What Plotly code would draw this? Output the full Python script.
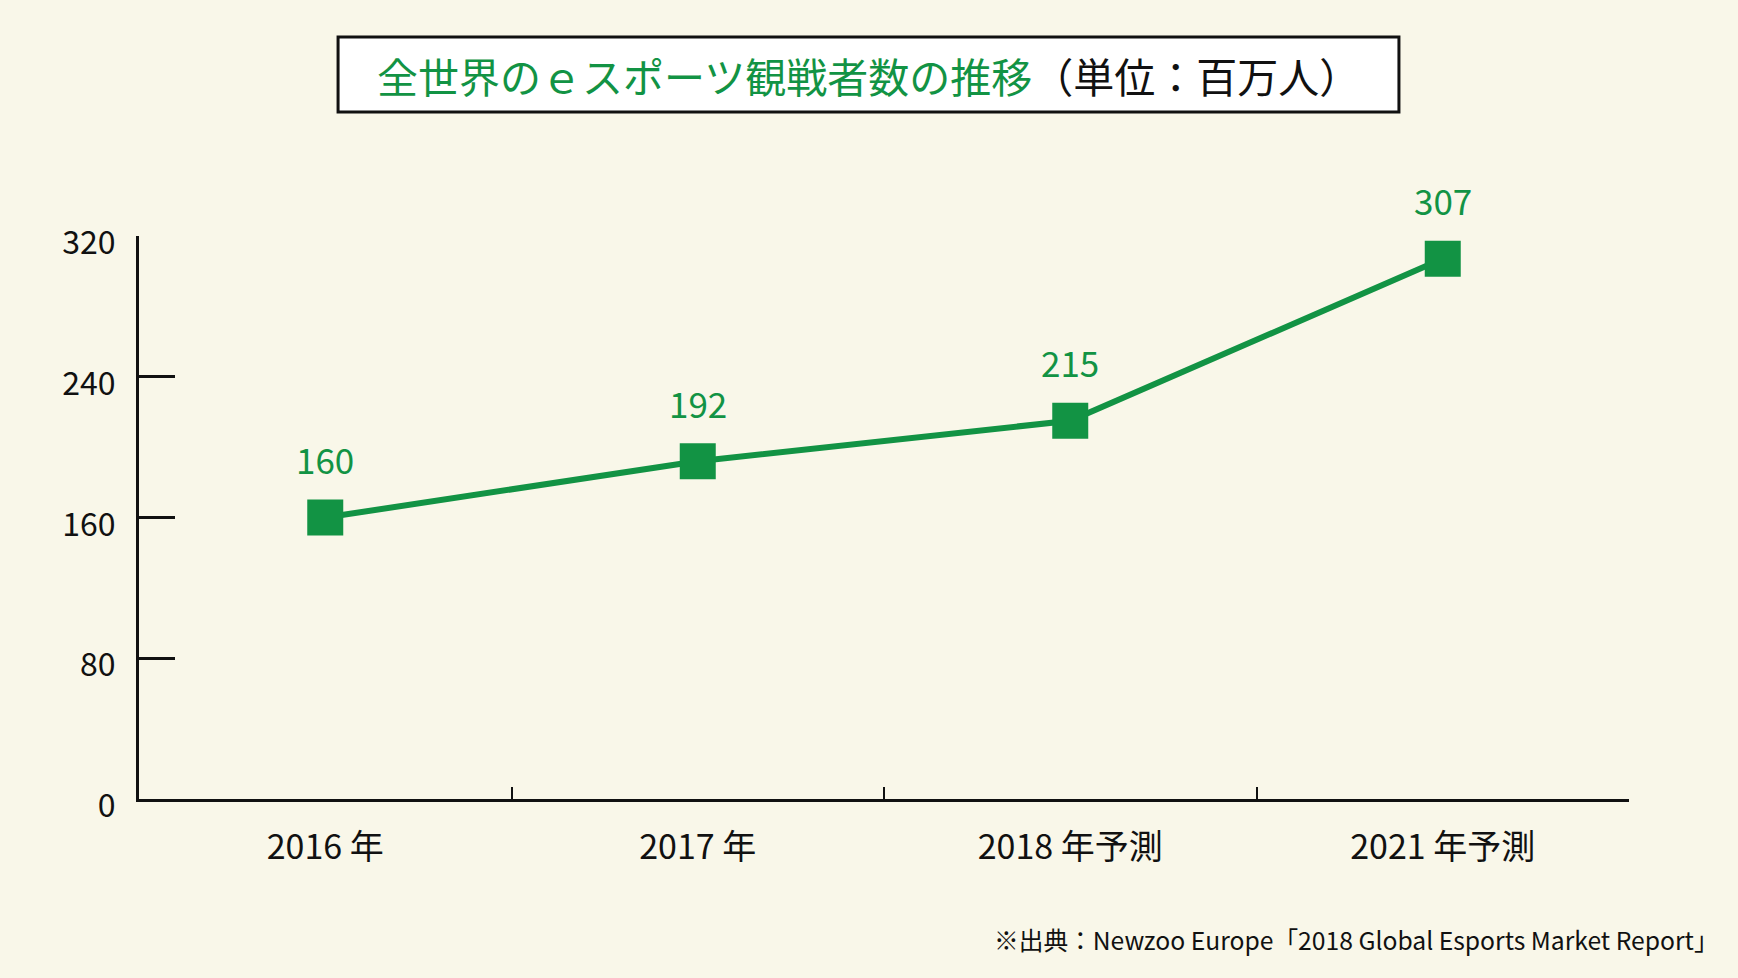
import plotly.graph_objects as go

categories = ["2016 年", "2017 年", "2018 年予測", "2021 年予測"]
viewers = [160, 192, 215, 307]
y_ticks = [0, 80, 160, 240, 320]

GREEN = "#129344"
BG = "#F9F7E9"
FONT = "Noto Sans CJK JP"

fig = go.Figure()
fig.add_trace(go.Scatter(
    x=categories, y=viewers, mode="lines+markers",
    line=dict(color=GREEN, width=6),
    marker=dict(symbol="square", size=36, color=GREEN),
    hoverinfo="skip", showlegend=False, cliponaxis=False,
))

for c, v in zip(categories, viewers):
    fig.add_annotation(x=c, y=v, text=str(v), showarrow=False, yshift=59,
                       font=dict(family=FONT, size=35, color=GREEN))

fig.update_layout(
    width=1738, height=978,
    margin=dict(l=139, r=109, t=236, b=179),
    paper_bgcolor=BG, plot_bgcolor=BG,
    font=dict(family=FONT, color="#111111"),
)
fig.update_xaxes(
    type="category", range=[-0.5, 3.5], showgrid=False, zeroline=False,
    showline=True, linecolor="#111111", linewidth=3,
    ticks="inside", tickson="boundaries", ticklen=12, tickwidth=2, tickcolor="#111111",
    tickfont=dict(family=FONT, size=34, color="#111111"),
    ticklabelstandoff=16,
)
fig.update_yaxes(
    range=[0, 320], tickvals=y_ticks, showgrid=False, zeroline=False,
    showline=True, linecolor="#111111", linewidth=3,
    ticks="inside", ticklen=36, tickwidth=3, tickcolor="#111111",
    tickfont=dict(family=FONT, size=32, color="#111111"),
    ticklabelstandoff=14, ticklabelshift=7,
)

# title box
fig.add_shape(type="rect", xref="paper", yref="paper",
              x0=0.1336, x1=0.8456, y0=1.2202, y1=1.3535,
              line=dict(color="#111111", width=3), fillcolor="white")
fig.add_annotation(
    xref="paper", yref="paper", x=0.4899, y=1.286, showarrow=False,
    xanchor="center", yanchor="middle",
    text=f"<span style='color:{GREEN}'>全世界のｅスポーツ観戦者数の推移</span>"
         "<span style='color:#111111'>（単位：百万人）</span>",
    font=dict(family=FONT, size=41),
)
fig.add_annotation(
    xref="paper", yref="paper", x=1.0617, y=-0.2487, showarrow=False,
    xanchor="right", yanchor="middle",
    text="※出典：Newzoo Europe「2018 Global Esports Market Report」",
    font=dict(family=FONT, size=24.7, color="#111111"),
)

fig.write_html(
    "out.html",
    config={"displayModeBar": False},
    post_script="document.body.style.margin='0';document.body.style.background='" + BG + "';",
)
